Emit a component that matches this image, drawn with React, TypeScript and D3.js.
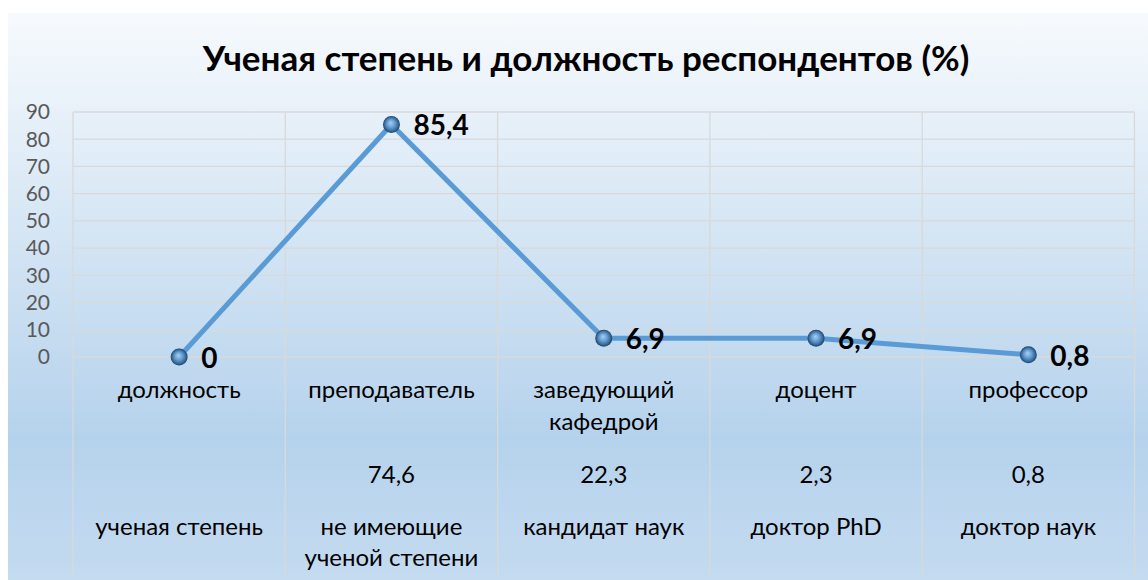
import { useEffect, useRef } from 'react';
import * as d3 from 'd3';

// positions (top row), line values, degree shares, degree labels
const positions = [['должность'], ['преподаватель'], ['заведующий', 'кафедрой'], ['доцент'], ['профессор']];
const values = [0, 85.4, 6.9, 6.9, 0.8];
const degreeValues = ['', '74,6', '22,3', '2,3', '0,8'];
const degrees = [['ученая степень'], ['не имеющие', 'ученой степени'], ['кандидат наук'], ['доктор PhD'], ['доктор наук']];
const yTicks = [0, 10, 20, 30, 40, 50, 60, 70, 80, 90];

const fmt = (v: number) => String(v).replace('.', ',');

const App = () => {
  const ref = useRef<SVGSVGElement | null>(null);

  useEffect(() => {
    if (!ref.current) return;
    const svg = d3.select(ref.current);
    svg.selectAll('*').remove();

    const width = 1148;
    const height = 580;
    const font = 'Lato, "Open Sans", sans-serif';

    const defs = svg.append('defs');
    const bg = defs.append('linearGradient')
      .attr('id', 'bg').attr('x1', 0).attr('y1', 0).attr('x2', 0).attr('y2', 1);
    bg.append('stop').attr('offset', '0%').attr('stop-color', '#f7fafd');
    bg.append('stop').attr('offset', '75%').attr('stop-color', '#b5d2ec');
    bg.append('stop').attr('offset', '100%').attr('stop-color', '#c4dbf0');

    const mk = defs.append('radialGradient')
      .attr('id', 'mk').attr('cx', '50%').attr('cy', '50%').attr('r', '50%')
      .attr('fx', '45%').attr('fy', '40%');
    mk.append('stop').attr('offset', '0%').attr('stop-color', '#a9cdee');
    mk.append('stop').attr('offset', '40%').attr('stop-color', '#6fa6da');
    mk.append('stop').attr('offset', '78%').attr('stop-color', '#3a6f9f');
    mk.append('stop').attr('offset', '100%').attr('stop-color', '#1b4266');

    svg.append('rect')
      .attr('x', 8).attr('y', 13)
      .attr('width', width - 8).attr('height', height - 13)
      .attr('fill', 'url(#bg)');

    // title
    svg.append('text')
      .attr('x', 586).attr('y', 71)
      .attr('text-anchor', 'middle')
      .attr('font-family', font)
      .attr('font-weight', 'bold')
      .attr('font-size', 35)
      .attr('fill', '#000')
      .text('Ученая степень и должность респондентов (%)');

    const x = d3.scaleBand<number>()
      .domain(d3.range(values.length))
      .range([73, 1134.5])
      .padding(0);
    const y = d3.scaleLinear().domain([0, 90]).range([357, 112]);
    const cx = (i: number) => (x(i) as number) + x.bandwidth() / 2;

    const grid = '#d9d9d9';
    // horizontal grid
    svg.append('g').selectAll('line').data(yTicks).join('line')
      .attr('x1', 73).attr('x2', 1134.5)
      .attr('y1', d => y(d)).attr('y2', d => y(d))
      .attr('stroke', grid).attr('stroke-width', 1.3);

    // vertical grid (table lines)
    const vx = d3.range(values.length + 1).map(i => i < values.length ? (x(i) as number) : 1134.5);
    svg.append('g').selectAll('line').data(vx).join('line')
      .attr('x1', d => d).attr('x2', d => d)
      .attr('y1', 112).attr('y2', 577)
      .attr('stroke', grid).attr('stroke-width', 1.3);

    // y labels
    svg.append('g').selectAll('text').data(yTicks).join('text')
      .attr('x', 50).attr('y', d => y(d))
      .attr('dy', '0.35em')
      .attr('text-anchor', 'end')
      .attr('font-family', font)
      .attr('font-size', 21)
      .attr('fill', '#595959')
      .text(d => d);

    // line
    const line = d3.line<number>()
      .x((_, i) => cx(i))
      .y(d => y(d));
    svg.append('path')
      .datum(values)
      .attr('d', line)
      .attr('fill', 'none')
      .attr('stroke', '#5b9bd5')
      .attr('stroke-width', 5)
      .attr('stroke-linejoin', 'round');

    svg.append('g').selectAll('circle').data(values).join('circle')
      .attr('cx', (_, i) => cx(i))
      .attr('cy', d => y(d))
      .attr('r', 8.5)
      .attr('fill', 'url(#mk)');

    svg.append('g').selectAll('text').data(values).join('text')
      .attr('x', (_, i) => cx(i) + 22)
      .attr('y', d => y(d) + 1)
      .attr('dy', '0.35em')
      .attr('font-family', font)
      .attr('font-weight', 'bold')
      .attr('font-size', 28)
      .attr('fill', '#000')
      .text(d => fmt(d));

    const labelStyle = (sel: any) => sel
      .attr('text-anchor', 'middle')
      .attr('font-family', font)
      .attr('font-size', 24)
      .attr('fill', '#000');

    // position labels
    positions.forEach((lines, i) => {
      lines.forEach((t, k) => {
        svg.append('text').call(labelStyle)
          .attr('x', cx(i)).attr('y', 398 + k * 32)
          .text(t);
      });
    });

    // degree values
    degreeValues.forEach((t, i) => {
      svg.append('text').call(labelStyle)
        .attr('x', cx(i)).attr('y', 483)
        .text(t);
    });

    // degree labels
    degrees.forEach((lines, i) => {
      lines.forEach((t, k) => {
        svg.append('text').call(labelStyle)
          .attr('x', cx(i)).attr('y', 535 + k * 31)
          .text(t);
      });
    });
  }, []);

  return (
    <svg ref={ref} width={1148} height={580} style={{ display: 'block', position: 'absolute', left: 0, top: 0 }} />
  );
};

export default App;
